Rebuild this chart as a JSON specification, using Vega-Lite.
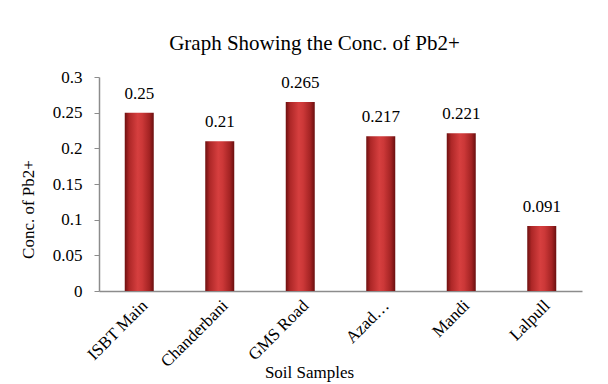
{
  "$schema": "https://vega.github.io/schema/vega-lite/v6.json",
  "width": 483,
  "height": 214,
  "autosize": "none",
  "padding": {"left": 99, "top": 77, "right": 26, "bottom": 93},
  "background": "white",
  "title": {
    "text": "Graph Showing the Conc. of Pb2+",
    "font": "Liberation Serif",
    "fontSize": 21,
    "fontWeight": "normal",
    "color": "#000000",
    "anchor": "middle",
    "offset": 14,
    "dx": -26
  },
  "data": {
    "values": [
      {"sample": "ISBT Main", "conc": 0.25},
      {"sample": "Chanderbani", "conc": 0.21},
      {"sample": "GMS Road", "conc": 0.265},
      {"sample": "Azad…", "conc": 0.217},
      {"sample": "Mandi", "conc": 0.221},
      {"sample": "Lalpull", "conc": 0.091}
    ]
  },
  "encoding": {
    "x": {
      "field": "sample",
      "type": "nominal",
      "sort": null,
      "title": "Soil Samples",
      "axis": {
        "labelAngle": -45,
        "labelFont": "Liberation Serif",
        "labelFontSize": 17,
        "labelColor": "#000000",
        "labelPadding": 6,
        "ticks": false,
        "domainColor": "#8c8c8c",
        "domainWidth": 1.5,
        "titleFont": "Liberation Serif",
        "titleFontSize": 17,
        "titleFontWeight": "normal",
        "titleColor": "#000000",
        "titleX": 210,
        "titleY": 81,
        "titleBaseline": "middle"
      }
    },
    "y": {
      "field": "conc",
      "type": "quantitative",
      "title": "Conc. of Pb2+",
      "scale": {"domain": [0, 0.3]},
      "axis": {
        "values": [0, 0.05, 0.1, 0.15, 0.2, 0.25, 0.3],
        "format": "~g",
        "grid": false,
        "labelFont": "Liberation Serif",
        "labelFontSize": 17,
        "labelColor": "#000000",
        "labelPadding": 12,
        "tickSize": 5,
        "tickColor": "#8c8c8c",
        "domainColor": "#8c8c8c",
        "domainWidth": 1.5,
        "titleFont": "Liberation Serif",
        "titleFontSize": 17,
        "titleFontWeight": "normal",
        "titleColor": "#000000",
        "titleX": -71,
        "titleY": 132,
        "titleBaseline": "middle",
        "titleAngle": -90
      }
    }
  },
  "layer": [
    {
      "mark": {
        "type": "bar",
        "size": 29,
        "color": {
          "gradient": "linear",
          "x1": 0, "x2": 1, "y1": 0, "y2": 0,
          "stops": [
            {"offset": 0, "color": "#6e1010"},
            {"offset": 0.15, "color": "#ad2727"},
            {"offset": 0.45, "color": "#d63f3f"},
            {"offset": 0.6, "color": "#cc3838"},
            {"offset": 0.85, "color": "#a32323"},
            {"offset": 1, "color": "#6a0f0f"}
          ]
        }
      }
    },
    {
      "mark": {
        "type": "text",
        "font": "Liberation Serif",
        "fontSize": 17,
        "color": "#000000",
        "baseline": "alphabetic",
        "dy": -14
      },
      "encoding": {
        "text": {"field": "conc", "type": "quantitative"}
      }
    }
  ],
  "config": {"view": {"stroke": null}}
}
